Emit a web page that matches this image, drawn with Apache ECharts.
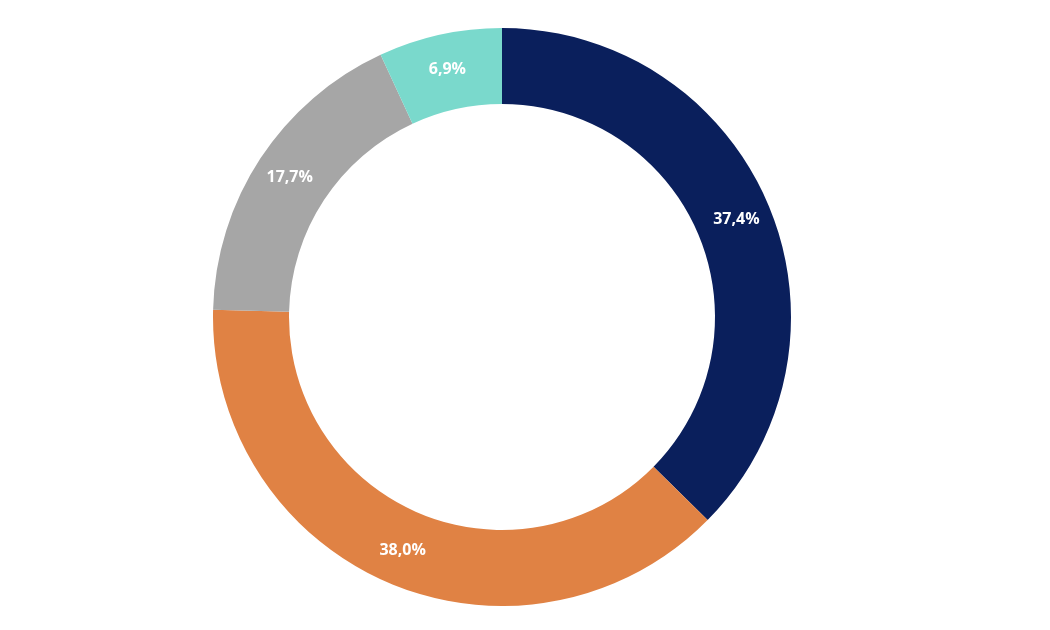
<!DOCTYPE html>
<html>
<head>
<meta charset="utf-8">
<script src="https://cdn.jsdelivr.net/npm/echarts@6/dist/echarts.min.js"></script>
<style>
  html, body { margin: 0; padding: 0; background: #fff; }
  #main { width: 1050px; height: 630px; }
</style>
</head>
<body>
<div id="main"></div>
<script>
// slices clockwise from 12 o'clock
var names = ['A', 'B', 'C', 'D'];
var values = [37.4, 38.0, 17.7, 6.9];
var colors = ['#0a1f5c', '#e08244', '#a6a6a6', '#7ad9cc'];

var chart = echarts.init(document.getElementById('main'));

var data = [];
for (var i = 0; i < values.length; i++) {
  data.push({ name: names[i], value: values[i], itemStyle: { color: colors[i] } });
}

var option = {
  animation: false,
  series: [{
    type: 'pie',
    center: [502, 317],
    radius: [213, 289],
    startAngle: 90,
    clockwise: true,
    avoidLabelOverlap: false,
    data: data,
    itemStyle: { borderWidth: 0 },
    label: {
      show: true,
      position: 'inside',
      color: '#fff',
      fontFamily: 'Open Sans',
      fontWeight: 'bold',
      fontSize: 16,
      formatter: function (p) {
        return p.value.toFixed(1).replace('.', ',') + '%';
      }
    },
    labelLine: { show: false },
    emphasis: { disabled: true }
  }]
};
chart.setOption(option);
</script>
</body>
</html>
